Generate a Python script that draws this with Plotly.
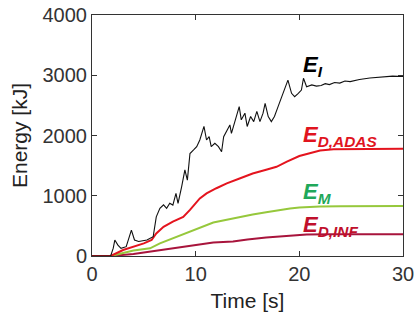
import plotly.graph_objects as go

# E_I (input energy), noisy black
t_EI = [0, 1.8, 2.05, 2.2, 2.5, 2.8, 3.3, 3.6, 3.8, 4.1, 4.5, 5.3, 5.9, 6.2, 6.55, 6.9, 7.2, 7.5, 7.8, 8.1,
        8.3, 8.65, 8.96, 9.2, 9.45, 9.8, 10.1, 10.4, 10.8, 11.05, 11.3, 11.5, 11.85, 12.2, 12.5, 12.7,
        13.05, 13.3, 13.45, 13.8, 14.2, 14.4, 14.75, 14.97, 15.3, 15.6, 15.9, 16.2, 16.5, 16.7, 17.0,
        17.3, 17.6, 17.95, 18.3, 18.6, 18.9, 19.25, 19.55, 19.9, 20.2, 20.4, 20.7, 21.2, 21.65, 22.1,
        22.5, 22.9, 23.4, 23.9, 24.4, 24.9, 25.8, 26.8, 28.1, 29.0, 30.0]
E_I = [0, 0, 130, 265, 180, 127, 155, 300, 430, 265, 240, 265, 320, 650, 790, 850, 790, 875, 845, 1040,
       875, 1150, 1430, 1260, 1700, 1760, 1815, 1925, 2150, 1925, 1980, 1815, 1870, 1815, 1730, 1980,
       2090, 2175, 2035, 2260, 2480, 2260, 2370, 2150, 2315, 2230, 2400, 2230, 2370, 2535, 2315,
       2230, 2315, 2480, 2645, 2755, 2920, 2700, 2645, 2700, 2755, 2950, 2810, 2840, 2820, 2830,
       2860, 2845, 2880, 2870, 2905, 2895, 2930, 2955, 2975, 2985, 2980]

# E_D,ADAS
t_ADAS = [0, 1.8, 3.0, 4.0, 5.0, 5.75, 6.2, 6.9, 7.8, 8.8, 9.45, 10.4, 11.05, 12.0, 13.0, 14.3, 15.5,
          16.8, 17.8, 18.8, 20.0, 21.0, 22.0, 23.3, 26.5, 30.0]
E_ADAS = [0, 0, 100, 155, 210, 265, 375, 485, 570, 650, 765, 955, 1040, 1125, 1205, 1290, 1370,
          1430, 1480, 1565, 1660, 1705, 1750, 1770, 1780, 1780]

# E_M
t_M = [0, 1.8, 4.0, 5.6, 6.55, 7.8, 9.1, 10.4, 11.7, 13.0, 14.3, 15.5, 16.8, 18.1, 19.1, 20.0, 21.0,
       22.0, 24.0, 30.0]
E_M = [0, 0, 90, 127, 210, 295, 375, 475, 555, 600, 650, 690, 725, 765, 790, 805, 815, 820, 825, 830]

# E_D,INF
t_INF = [0, 1.8, 4.0, 6.55, 7.8, 9.1, 10.4, 11.7, 13.6, 15.0, 16.8, 18.8, 20.7, 23.0, 30.0]
E_INF = [0, 0, 33, 100, 127, 165, 195, 225, 240, 275, 305, 330, 355, 360, 360]

x_ticks = [0, 10, 20, 30]
y_ticks = [0, 1000, 2000, 3000, 4000]

fig = go.Figure()
fig.add_trace(go.Scatter(x=t_INF, y=E_INF, mode="lines", line=dict(color="#A8143C", width=2)))
fig.add_trace(go.Scatter(x=t_M, y=E_M, mode="lines", line=dict(color="#96C83C", width=2)))
fig.add_trace(go.Scatter(x=t_ADAS, y=E_ADAS, mode="lines", line=dict(color="#E4141E", width=2)))
fig.add_trace(go.Scatter(x=t_EI, y=E_I, mode="lines", line=dict(color="#111111", width=1.1)))

lab_font = dict(family="Liberation Sans, Arial", size=22)
fig.add_annotation(x=20.2, y=3150, text="<b><i>E<sub>I</sub></i></b>", showarrow=False,
                   xanchor="left", yanchor="middle", font=dict(lab_font, color="#000000"))
fig.add_annotation(x=20.2, y=1990, text="<b><i>E<sub>D,ADAS</sub></i></b>", showarrow=False,
                   xanchor="left", yanchor="middle", font=dict(lab_font, color="#E0141E"))
fig.add_annotation(x=20.2, y=1040, text="<b><i>E<sub>M</sub></i></b>", showarrow=False,
                   xanchor="left", yanchor="middle", font=dict(lab_font, color="#1FA85A"))
fig.add_annotation(x=20.2, y=490, text="<b><i>E<sub>D,INF</sub></i></b>", showarrow=False,
                   xanchor="left", yanchor="middle", font=dict(lab_font, color="#C0102C"))

axis_common = dict(showgrid=False, zeroline=False, showline=True, linecolor="#333333", linewidth=1,
                   mirror="ticks", ticks="inside", ticklen=5, tickcolor="#333333", automargin=False,
                   ticklabeloverflow="allow",
                   tickfont=dict(family="Liberation Sans, Arial", size=20, color="#333333"))
fig.update_xaxes(range=[0, 30], tickvals=x_ticks, ticktext=[str(v) for v in x_ticks],
                 title=dict(text="Time [s]", font=dict(family="Liberation Sans, Arial", size=21, color="#222222"),
                            standoff=9), **axis_common)
fig.update_yaxes(range=[0, 4000], tickvals=y_ticks, ticktext=[str(v) for v in y_ticks],
                 title=dict(text="Energy [kJ]", font=dict(family="Liberation Sans, Arial", size=21, color="#222222"),
                            standoff=9), **axis_common)

fig.update_layout(width=414, height=320, margin=dict(l=92, r=11, t=15, b=64),
                  paper_bgcolor="white", plot_bgcolor="white", showlegend=False)

fig.write_html("out.html", config={"displayModeBar": False},
               post_script="document.body.style.margin='0';")
